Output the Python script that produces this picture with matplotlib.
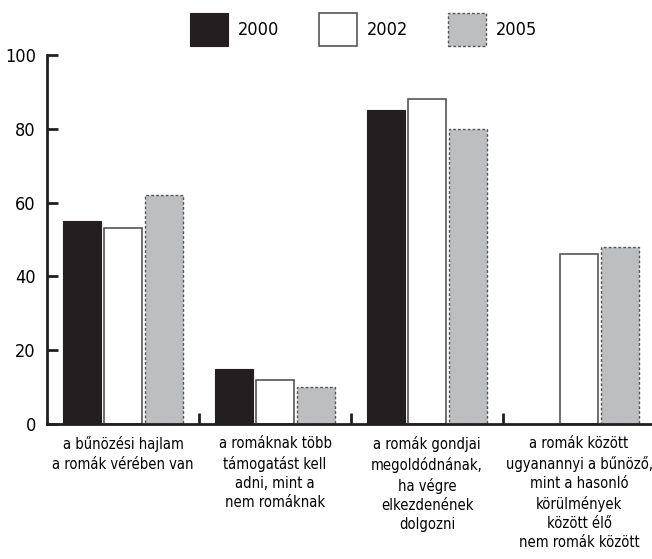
import numpy as np
import matplotlib
matplotlib.use("Agg")
import matplotlib.pyplot as plt
from matplotlib.patches import Patch

categories = [
    "a bűnözési hajlam\na romák vérében van",
    "a romáknak több\ntámogatást kell\nadni, mint a\nnem romáknak",
    "a romák gondjai\nmegoldódnának,\nha végre\nelkezdenének\ndolgozni",
    "a romák között\nugyanannyi a bűnöző,\nmint a hasonló\nkörülmények\nközött élő\nnem romák között",
]
years = ["2000", "2002", "2005"]
v2000 = [55, 15, 85, 0]
v2002 = [53, 12, 88, 46]
v2005 = [62, 10, 80, 48]
yticks = [0, 20, 40, 60, 80, 100]

plt.rcParams['font.family'] = ['DejaVu Sans']
plt.rcParams['font.stretch'] = 'condensed'

black = "#231f20"
grey = "#bcbec0"
edge = "#555555"

fig = plt.figure(figsize=(6.52, 5.59), dpi=100)
ax = fig.add_axes([47 / 652, 135 / 559, 605 / 652, 369 / 559])

x = np.arange(len(categories))
w = 0.245
ax.bar(x - 0.27, v2000, w, color=black, edgecolor=black, linewidth=0.8)
ax.bar(x, v2002, w, color="white", edgecolor=edge, linewidth=1.2)
ax.bar(x + 0.27, v2005, w, color=grey, edgecolor=edge, linewidth=1.0,
       linestyle=(0, (2, 1.5)))

ax.set_xlim(-0.5, 3.48)
ax.set_ylim(0, 100)
ax.set_yticks(yticks)
ax.tick_params(axis="y", direction="in", length=8, width=2, labelsize=13,
               pad=8, color=black)
ax.set_xticks(x)
ax.set_xticklabels(categories, fontsize=10.5, linespacing=1.35)
ax.tick_params(axis="x", length=0, pad=9)
ax.set_xticks([0.5, 1.5, 2.5], minor=True)
ax.tick_params(axis="x", which="minor", direction="in", length=8, width=2,
               color=black)

for s in ["top", "right"]:
    ax.spines[s].set_visible(False)
for s in ["left", "bottom"]:
    ax.spines[s].set_linewidth(2)
    ax.spines[s].set_color(black)

handles = [
    Patch(facecolor=black, edgecolor=black, linewidth=0.8),
    Patch(facecolor="white", edgecolor=edge, linewidth=1.2),
    Patch(facecolor=grey, edgecolor=edge, linewidth=1.0, linestyle=(0, (2, 1.5))),
]
fig.legend(handles, years, loc="upper center", bbox_to_anchor=(0.558, 1.005),
           ncol=3, frameon=False, fontsize=13, handlelength=2.1,
           handleheight=2.4, handletextpad=0.55, columnspacing=2.2)

fig.savefig("out.png", dpi=100)
